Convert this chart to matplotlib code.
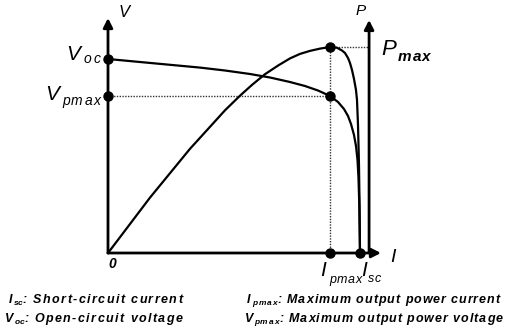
import matplotlib
matplotlib.use('Agg')
import matplotlib.pyplot as plt

plt.rcParams['font.family'] = ['Liberation Sans', 'DejaVu Sans']

# I-V curve, normalised (I / Isc, V / Voc)
current_iv = [0.0, 0.1270, 0.2460, 0.3651, 0.4643, 0.5635, 0.6429, 0.7222, 0.7817, 0.8333,
              0.8810, 0.9127, 0.9365, 0.9524, 0.9643, 0.9762, 0.9841, 0.9901, 0.9940, 0.9972, 1.0]
voltage_iv = [1.0, 0.9845, 0.9701, 0.9557, 0.9407, 0.9227, 0.9046, 0.8814, 0.8608, 0.8376,
              0.8093, 0.7784, 0.7423, 0.7062, 0.6649, 0.6082, 0.5515, 0.4794, 0.3866, 0.2474, 0.0]

# P-I curve, drawn on the same vertical scale
current_p = [0.0, 0.0675, 0.1667, 0.2460, 0.3254, 0.4048, 0.4643, 0.5238, 0.5714, 0.6230,
             0.6746, 0.7222, 0.7619, 0.8016, 0.8413, 0.8810, 0.9087, 0.9286, 0.9405, 0.9524,
             0.9603, 0.9683, 0.9762, 0.9841, 0.9881, 0.9921, 0.9960, 0.9984, 1.0]
power_p = [0.0, 0.1155, 0.2856, 0.4113, 0.5371, 0.6505, 0.7356, 0.8108, 0.8665, 0.9216,
           0.9660, 1.0031, 1.0263, 1.0418, 1.0535, 1.0620, 1.0580, 1.0438, 1.0309, 1.0052,
           0.9794, 0.9433, 0.8969, 0.8402, 0.7887, 0.6598, 0.4536, 0.2216, 0.0]

i_sc, i_pmax = 1.0, 0.881
v_oc, v_pmax = 1.0, 0.809
p_max = 1.062

W, H = 506, 333
fig = plt.figure(figsize=(W / 100, H / 100), dpi=100)
ax = fig.add_axes([0, 0, 1, 1])
ax.set_xlim(-108 / 252, (W - 108) / 252)
ax.set_ylim((253 - H) / 194, 253 / 194)
ax.axis('off')

p_axis_x = 1.036
arrow = dict(arrowstyle='-|>,head_length=0.55,head_width=0.28', lw=2.0, color='black',
             shrinkA=0, shrinkB=0)
ax.annotate('', xy=(0, 1.211), xytext=(0, 0), arrowprops=arrow)
ax.annotate('', xy=(1.083, 0), xytext=(0, 0), arrowprops=arrow)
ax.annotate('', xy=(p_axis_x, 1.201), xytext=(p_axis_x, 0), arrowprops=arrow)

# dotted guide lines
dot = dict(color='#333333', lw=1.0, linestyle=(0, (1, 1)))
ax.plot([0, i_pmax], [v_pmax, v_pmax], **dot)
ax.plot([i_pmax, p_axis_x], [p_max, p_max], **dot)
ax.plot([i_pmax, i_pmax], [0, p_max], **dot)

ax.plot(current_iv, voltage_iv, color='black', lw=1.6, solid_joinstyle='round')
ax.plot(current_p, power_p, color='black', lw=1.6, solid_joinstyle='round')

ax.plot([0, 0, i_pmax, i_pmax, i_pmax, i_sc], [v_oc, v_pmax, p_max, v_pmax, 0, 0],
        'o', color='black', ms=6.5, zorder=5)

renderer = fig.canvas.get_renderer()


def spaced(x, y, s, size, weight='normal', track=0.0):
    # x, y in pixels from top-left, y is the baseline
    for ch in s:
        if ch == ' ':
            x += size * 0.28 * 100 / 72 + track
            continue
        t = fig.text(x / W, 1 - y / H, ch, fontsize=size, fontstyle='italic',
                     fontweight=weight, va='baseline', ha='left')
        x += t.get_window_extent(renderer).width + track
    return x


# axis labels
spaced(119, 17, 'V', 12)
spaced(356, 15, 'P', 11)
spaced(390, 262, 'I', 14)
spaced(108, 268, '0', 10, 'bold')

# point labels
spaced(66, 60, 'V', 15)
spaced(84, 63, 'oc', 10, track=1.5)
spaced(45, 100, 'V', 15)
spaced(62, 105, 'pmax', 10, track=1.5)
spaced(381, 55, 'P', 16)
spaced(398, 61, 'max', 11, 'bold', track=1.0)
spaced(320, 276, 'I', 15)
spaced(329, 283, 'pmax', 9, track=0.6)
spaced(361, 276, 'I', 15)
spaced(368, 282, 'sc', 9, track=0.8)

# definitions below the chart
x = spaced(9, 303, 'I', 9, 'bold')
x = spaced(x + 1, 305, 'sc', 6, 'bold')
spaced(x, 303, ': Short-circuit current', 9, 'bold', track=1.4)
x = spaced(5, 322, 'V', 9, 'bold')
x = spaced(x + 1, 324, 'oc', 6, 'bold')
spaced(x, 322, ': Open-circuit voltage', 9, 'bold', track=1.4)

x = spaced(247, 303, 'I', 9, 'bold')
x = spaced(x + 2, 305, 'pmax', 6, 'bold', track=0.8)
spaced(x, 303, ': Maximum output power current', 9, 'bold', track=0.95)
x = spaced(245, 322, 'V', 9, 'bold')
x = spaced(x + 1, 324, 'pmax', 6, 'bold', track=0.8)
spaced(x, 322, ': Maximum output power voltage', 9, 'bold', track=0.95)

fig.savefig('out.png', dpi=100)
